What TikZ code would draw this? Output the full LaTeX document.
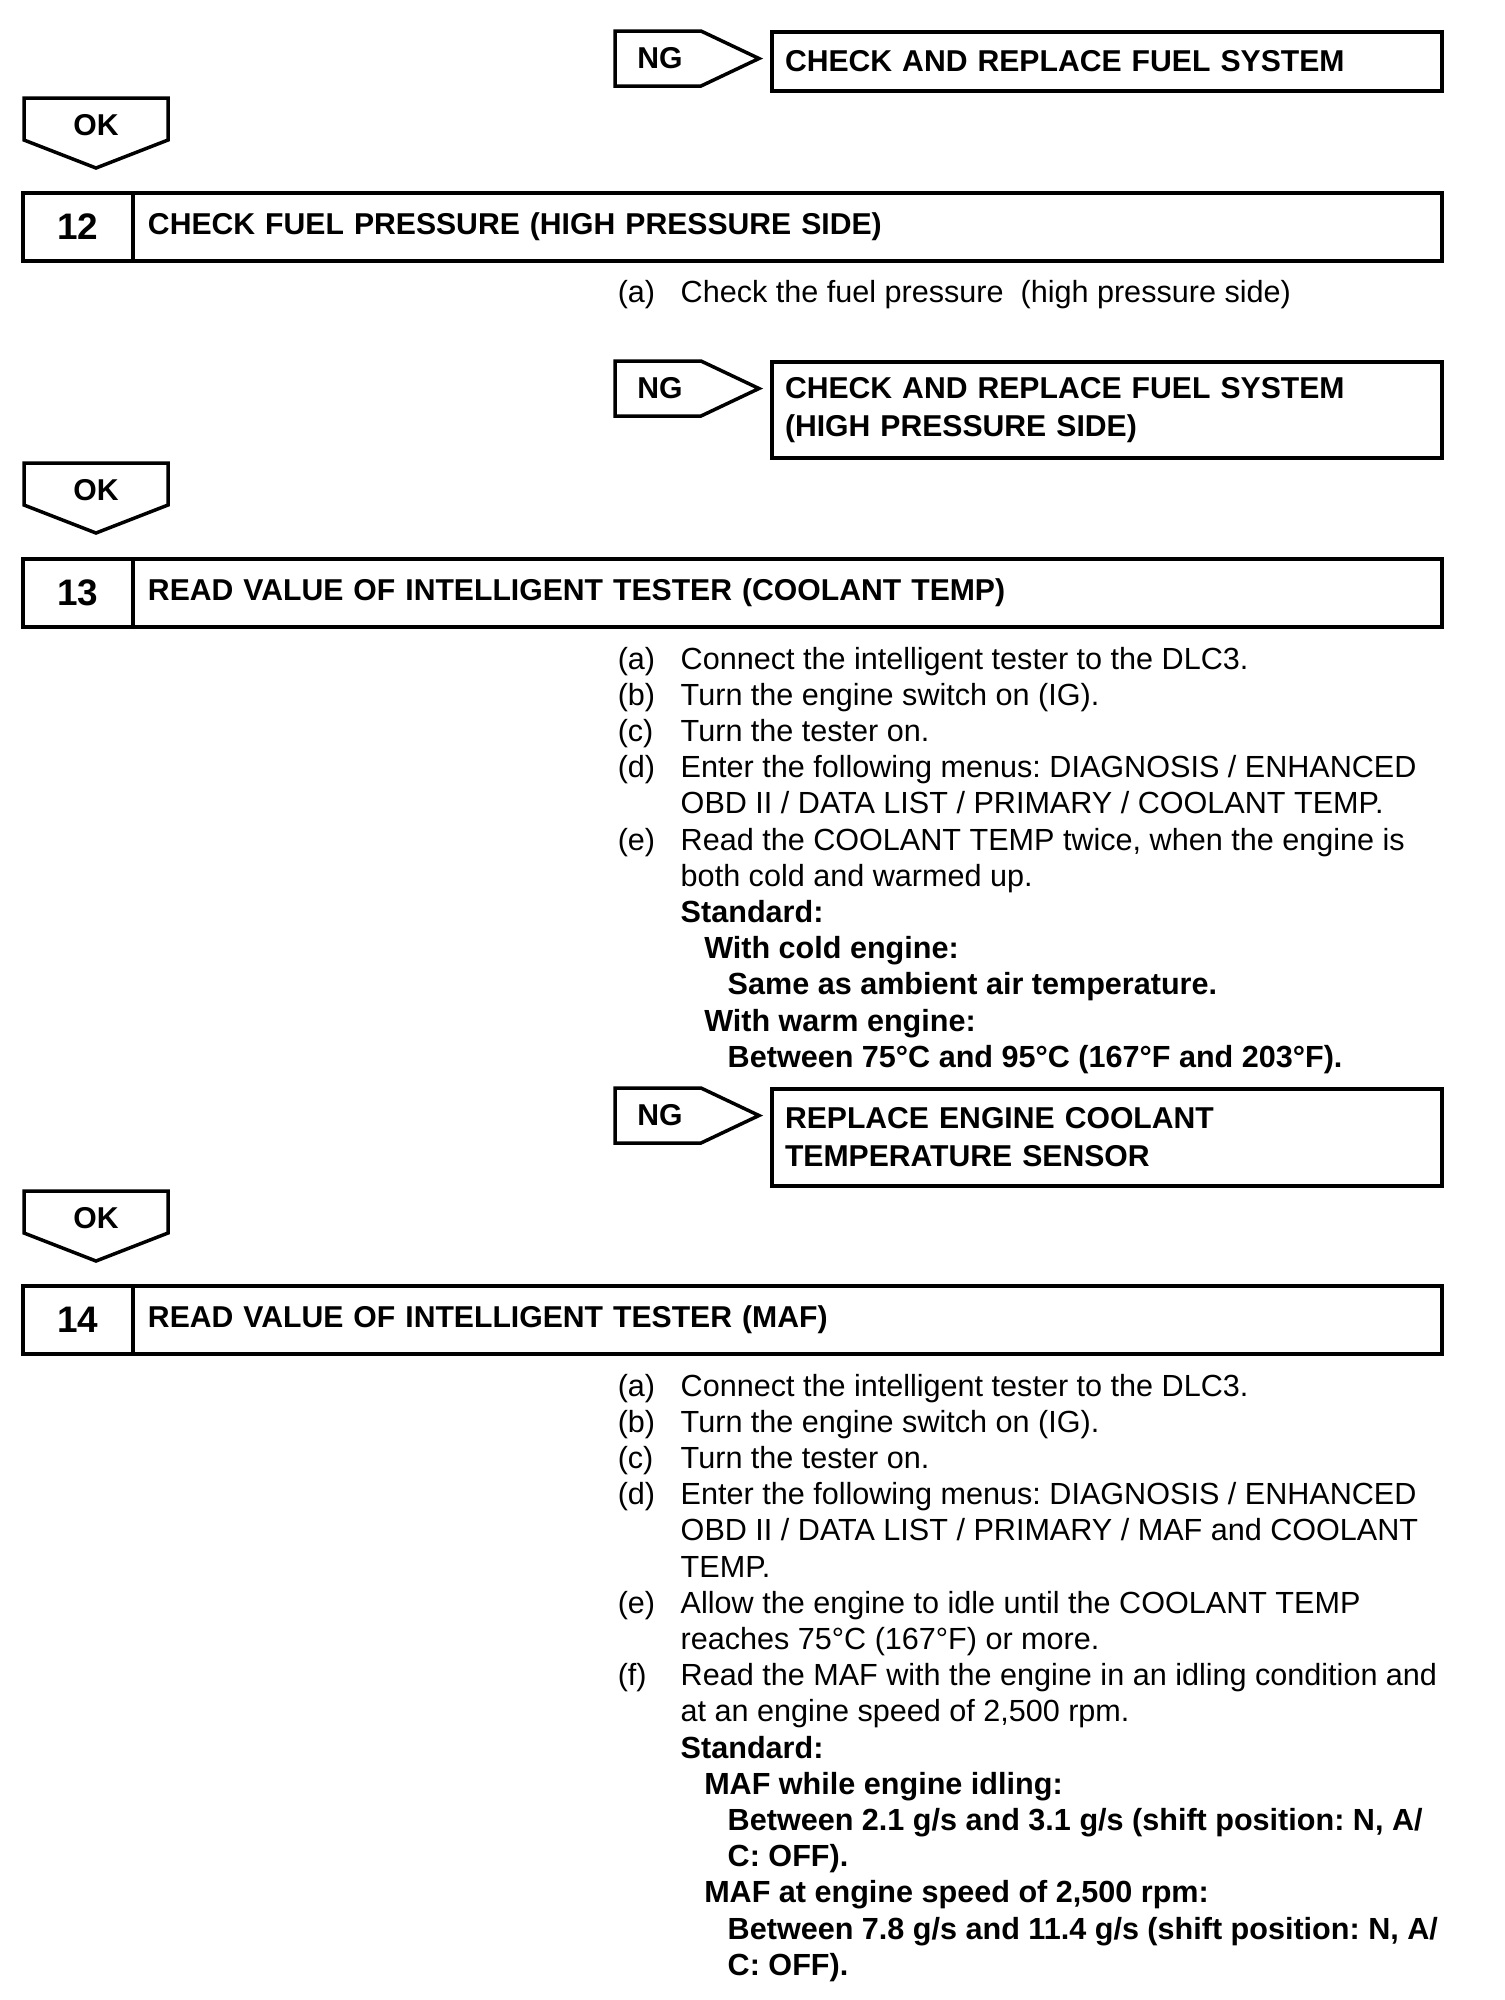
\documentclass[tikz,border=0pt]{standalone}
\usepackage{fontspec}
\setmainfont{Liberation Sans}
\usetikzlibrary{positioning}
\frenchspacing

\newcommand{\bodyfont}{\fontsize{8.7pt}{10.3pt}\selectfont}
\newcommand{\headfont}{\fontsize{8.58pt}{10.8pt}\selectfont}
\newcommand{\ind}{\hspace*{2.35mm}}

\begin{document}
\begin{tikzpicture}[x=0.1mm, y=-0.1mm, line width=0.35mm,
    tagtext/.style={font=\headfont\bfseries, inner sep=0pt},
    fixbox/.style={draw, anchor=north west, minimum width=67mm, text width=64.4mm,
        align=left, inner xsep=1.3mm, inner ysep=0pt, outer sep=0pt, font=\headfont\bfseries},
    numbox/.style={draw, anchor=north west, minimum width=11mm, minimum height=6.8mm,
        inner sep=0pt, outer sep=0pt, font=\fontsize{10.5pt}{12pt}\selectfont\bfseries},
    titlebox/.style={draw, anchor=west, minimum width=130.9mm, minimum height=6.8mm,
        text width=127.9mm, align=left, inner xsep=1.5mm, inner ysep=0pt, outer sep=0pt,
        font=\headfont\bfseries},
    steps/.style={anchor=base west, inner sep=0pt, font=\bodyfont}
]
\useasboundingbox (0,0) rectangle (1504,2000);
\renewcommand{\arraystretch}{1}

% NG tags
\foreach \y [count=\n] in {31, 361, 1088} {
    \draw (615,\y) -- ++(86,0) -- ++(58,27.5) -- ++(-58,27.5) -- ++(-86,0) -- cycle;
    \node[tagtext] (ng\n) at (660,\y+27.5) {NG};
}

% OK tags
\foreach \y [count=\n] in {98, 463, 1191} {
    \draw (24,\y) -- (168,\y) -- (168,\y+42) -- (96,\y+70) -- (24,\y+42) -- cycle;
    \node[tagtext] (ok\n) at (96,\y+27) {OK};
}

% Repair boxes
\node[fixbox, minimum height=5.9mm] (fix1) at (772,32) {CHECK AND REPLACE FUEL SYSTEM};
\node[fixbox, minimum height=9.6mm] (fix2) at (772,362) {CHECK AND REPLACE FUEL SYSTEM\\(HIGH PRESSURE SIDE)};
\node[fixbox, minimum height=9.7mm] (fix3) at (772,1089) {REPLACE ENGINE COOLANT\\TEMPERATURE SENSOR};

% Step 12
\node[numbox] (n12) at (23,193) {12};
\node[titlebox, right=0pt of n12] (t12) {CHECK FUEL PRESSURE (HIGH PRESSURE SIDE)};
\node[steps] (s12) at (616,302) {\begin{tabular}[t]{@{}p{6.3mm}@{}l@{}}
(a) & Check the fuel pressure\ \ (high pressure side)
\end{tabular}};

% Step 13
\node[numbox] (n13) at (23,559) {13};
\node[titlebox, right=0pt of n13] (t13) {READ VALUE OF INTELLIGENT TESTER (COOLANT TEMP)};
\node[steps] (s13) at (616,669) {\begin{tabular}[t]{@{}p{6.3mm}@{}l@{}}
(a) & Connect the intelligent tester to the DLC3.\\
(b) & Turn the engine switch on (IG).\\
(c) & Turn the tester on.\\
(d) & Enter the following menus: DIAGNOSIS / ENHANCED\\
    & OBD II / DATA LIST / PRIMARY / COOLANT TEMP.\\
(e) & Read the COOLANT TEMP twice, when the engine is\\
    & both cold and warmed up.\\
    & \textbf{Standard:}\\
    & \ind\textbf{With cold engine:}\\
    & \ind\ind\textbf{Same as ambient air temperature.}\\
    & \ind\textbf{With warm engine:}\\
    & \ind\ind\textbf{Between 75°C and 95°C (167°F and 203°F).}
\end{tabular}};

% Step 14
\node[numbox] (n14) at (23,1286) {14};
\node[titlebox, right=0pt of n14] (t14) {READ VALUE OF INTELLIGENT TESTER (MAF)};
\node[steps] (s14) at (616,1396) {\begin{tabular}[t]{@{}p{6.3mm}@{}l@{}}
(a) & Connect the intelligent tester to the DLC3.\\
(b) & Turn the engine switch on (IG).\\
(c) & Turn the tester on.\\
(d) & Enter the following menus: DIAGNOSIS / ENHANCED\\
    & OBD II / DATA LIST / PRIMARY / MAF and COOLANT\\
    & TEMP.\\
(e) & Allow the engine to idle until the COOLANT TEMP\\
    & reaches 75°C (167°F) or more.\\
(f) & Read the MAF with the engine in an idling condition and\\
    & at an engine speed of 2,500 rpm.\\
    & \textbf{Standard:}\\
    & \ind\textbf{MAF while engine idling:}\\
    & \ind\ind\textbf{Between 2.1 g/s and 3.1 g/s (shift position: N, A/}\\
    & \ind\ind\textbf{C: OFF).}\\
    & \ind\textbf{MAF at engine speed of 2,500 rpm:}\\
    & \ind\ind\textbf{Between 7.8 g/s and 11.4 g/s (shift position: N, A/}\\
    & \ind\ind\textbf{C: OFF).}
\end{tabular}};
\end{tikzpicture}
\end{document}
